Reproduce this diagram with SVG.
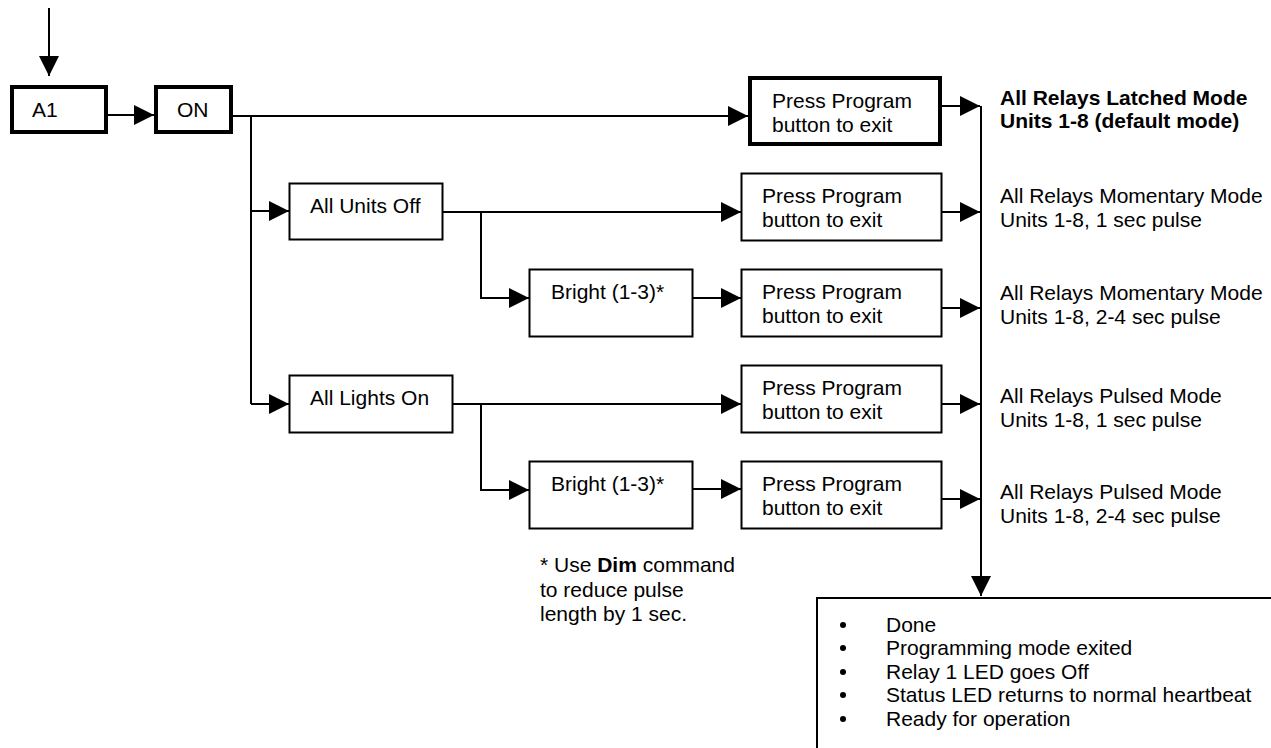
<svg xmlns="http://www.w3.org/2000/svg" width="1271" height="748" viewBox="0 0 1271 748">
<defs>
<marker id="ah" markerUnits="userSpaceOnUse" markerWidth="20" markerHeight="20" refX="20" refY="10" orient="auto">
<path d="M0,0 L20,10 L0,20 z" fill="#000"/>
</marker>
<style>
text{font-family:"Liberation Sans",Arial,sans-serif;font-size:21px;fill:#000}
.b{font-weight:bold}
.box{fill:#fff;stroke:#000;stroke-width:2}
.thick{fill:#fff;stroke:#000;stroke-width:4}
.c{fill:none;stroke:#000;stroke-width:2}
.a{marker-end:url(#ah)}
</style>
</defs>
<rect width="1271" height="748" fill="#fff"/>
<g id="connectors">
<path class="c a" d="M49,8 V76"/>
<path class="c a" d="M108,115 H154"/>
<path class="c a" d="M233,116 H748"/>
<path class="c" d="M251,116 V404"/>
<path class="c a" d="M251,211 H289"/>
<path class="c a" d="M251,404 H289"/>
<path class="c a" d="M443,212 H741"/>
<path class="c a" d="M481,212 V298 H529"/>
<path class="c a" d="M693,298 H741"/>
<path class="c a" d="M453,404 H741"/>
<path class="c a" d="M481,404 V490 H529"/>
<path class="c a" d="M693,489 H741"/>
<path class="c a" d="M942,106 H980"/>
<path class="c a" d="M942,212 H980"/>
<path class="c a" d="M942,308 H980"/>
<path class="c a" d="M942,404 H980"/>
<path class="c a" d="M942,499 H980"/>
<path class="c a" d="M981,106 V596"/>
</g>
<g id="a1"><rect class="thick" x="12" y="87" width="94" height="45"/><text x="32" y="117">A1</text></g>
<g id="on"><rect class="thick" x="156" y="87" width="75" height="45"/><text x="177" y="117">ON</text></g>
<g id="exit-top"><rect class="thick" x="750" y="78" width="190" height="66"/><text x="772" y="108">Press Program</text><text x="772" y="132">button to exit</text></g>
<g id="all-units-off"><rect class="box" x="289.5" y="183.5" width="153" height="56"/><text x="310" y="213">All Units Off</text></g>
<g id="all-lights-on"><rect class="box" x="289.5" y="375.5" width="163" height="57"/><text x="310" y="405">All Lights On</text></g>
<g id="bright1"><rect class="box" x="529.5" y="269.5" width="163" height="67"/><text x="551" y="299">Bright (1-3)*</text></g>
<g id="bright2"><rect class="box" x="529.5" y="461.5" width="163" height="67"/><text x="551" y="491">Bright (1-3)*</text></g>
<g id="exit1"><rect class="box" x="741.5" y="173.5" width="200" height="67"/><text x="762" y="203">Press Program</text><text x="762" y="227">button to exit</text></g>
<g id="exit2"><rect class="box" x="741.5" y="269.5" width="200" height="67"/><text x="762" y="299">Press Program</text><text x="762" y="323">button to exit</text></g>
<g id="exit3"><rect class="box" x="741.5" y="365.5" width="200" height="67"/><text x="762" y="395">Press Program</text><text x="762" y="419">button to exit</text></g>
<g id="exit4"><rect class="box" x="741.5" y="461.5" width="200" height="67"/><text x="762" y="491">Press Program</text><text x="762" y="515">button to exit</text></g>
<g id="labels">
<text class="b" x="1000" y="105">All Relays Latched Mode</text>
<text class="b" x="1000" y="128">Units 1-8 (default mode)</text>
<text x="1000" y="203">All Relays Momentary Mode</text>
<text x="1000" y="227">Units 1-8, 1 sec pulse</text>
<text x="1000" y="300">All Relays Momentary Mode</text>
<text x="1000" y="324">Units 1-8, 2-4 sec pulse</text>
<text x="1000" y="403">All Relays Pulsed Mode</text>
<text x="1000" y="427">Units 1-8, 1 sec pulse</text>
<text x="1000" y="499">All Relays Pulsed Mode</text>
<text x="1000" y="523">Units 1-8, 2-4 sec pulse</text>
</g>
<g id="footnote">
<text x="540" y="572">* Use <tspan class="b">Dim</tspan> command</text>
<text x="540" y="597">to reduce pulse</text>
<text x="540" y="621">length by 1 sec.</text>
</g>
<g id="done">
<rect class="box" x="817" y="598" width="500" height="200"/>
<circle cx="843" cy="625" r="3"/><text x="886" y="632">Done</text>
<circle cx="843" cy="648" r="3"/><text x="886" y="655">Programming mode exited</text>
<circle cx="843" cy="672" r="3"/><text x="886" y="679">Relay 1 LED goes Off</text>
<circle cx="843" cy="695" r="3"/><text x="886" y="702">Status LED returns to normal heartbeat</text>
<circle cx="843" cy="719" r="3"/><text x="886" y="726">Ready for operation</text>
</g>
</svg>
